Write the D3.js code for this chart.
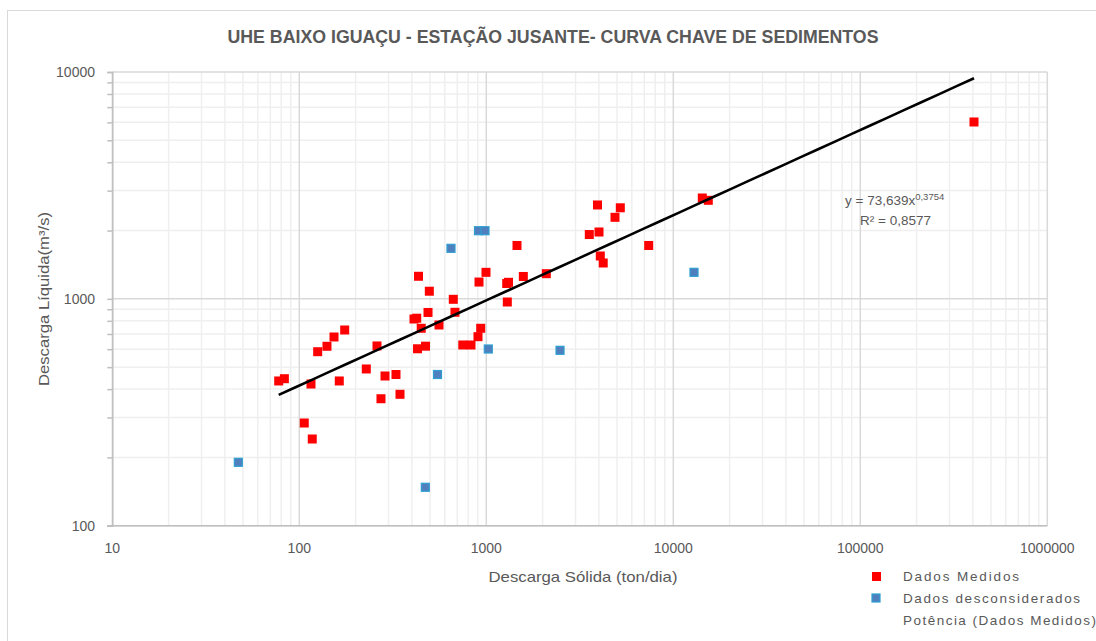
<!DOCTYPE html>
<html>
<head>
<meta charset="utf-8">
<script src="https://cdn.jsdelivr.net/npm/d3@7"></script>
<style>
  body { margin: 0; background: #fff; }
  text { font-family: "Liberation Sans", Arial, sans-serif; fill: #595959; }
</style>
</head>
<body>
<svg width="1096" height="641"></svg>
<script>
// Dados Medidos: descarga sólida (ton/dia) x descarga líquida (m³/s)
let medidosX = [77.6, 83.2, 125.4, 140.6, 153.3, 174.9, 115.5, 163.6, 228.2, 260.3,
                287.3, 328.9, 273.4, 345.6, 106.3, 117.3, 434, 495.8, 666, 680,
                410.6, 424.5, 487.9, 448.7, 558.6, 428.7, 473.1, 748.6, 828.2, 996.3,
                914.1, 1459.5, 1314.5, 1285.8, 1577.6, 2093.7, 1295.3, 933.5, 902.8, 3932.6,
                5207, 4878, 3555, 4006, 7386, 4071, 4219, 14290, 15385, 405500];
let medidosY = [434.5, 444.6, 584.8, 617.9, 679, 729, 421.3, 434.5, 490.8, 619.9,
                457, 464, 362.8, 379.5, 283.6, 241.1, 1257.6, 1080.6, 995.4, 872.6,
                815, 821.6, 870.9, 741.8, 766.9, 602.4, 618.5, 626.1, 626, 1309,
                1186, 1719, 1183, 1168.8, 1255, 1291, 968.5, 741.8, 681, 2593,
                2520, 2288, 1921, 1971, 1719, 1545, 1439, 2783, 2719, 6021];

// Dados desconsiderados
let descX = [47.2, 548.3, 647.4, 908.4, 984, 1025, 2479, 12902, 471.9];
let descY = [190.3, 464, 1670, 1997, 1997, 601, 593.2, 1309, 147.7];

// Potência (Dados Medidos): y = a * x^b
let trendA = 73.639, trendB = 0.3754;

let xTicks = [10, 100, 1000, 10000, 100000, 1000000];
let yTicks = [100, 1000, 10000];

var svg = d3.select('svg');

var x = d3.scaleLog().domain([10, 1000000]).range([112.3, 1047.3]);
var y = d3.scaleLog().domain([100, 10000]).range([525.7, 72]);

// moldura do gráfico
svg.append("rect")
   .attr("x", 7.5).attr("y", 10.5)
   .attr("width", 1100).attr("height", 650)
   .attr("fill", "none").attr("stroke", "#d9d9d9");

// valores de grade (1..9 por década)
function gridValues(lo, hi) {
  let out = [];
  for (let p = lo; p < hi; p *= 10) {
    for (let k = 1; k <= 9; k++) out.push(k * p);
  }
  out.push(hi);
  return out;
}
var xGrid = gridValues(10, 1000000);
var yGrid = gridValues(100, 10000);

var grid = svg.append("g");
grid.selectAll("line.gx")
    .data(xGrid.filter(v => !xTicks.includes(v)))
    .enter().append("line")
    .attr("x1", d => x(d)).attr("x2", d => x(d))
    .attr("y1", y(10000)).attr("y2", y(100))
    .attr("stroke", "#efefef").attr("stroke-width", 1.5);
grid.selectAll("line.gy")
    .data(yGrid.filter(v => !yTicks.includes(v)))
    .enter().append("line")
    .attr("x1", x(10)).attr("x2", x(1000000))
    .attr("y1", d => y(d)).attr("y2", d => y(d))
    .attr("stroke", "#efefef").attr("stroke-width", 1.5);
grid.selectAll("line.mx")
    .data(xTicks)
    .enter().append("line")
    .attr("x1", d => x(d)).attr("x2", d => x(d))
    .attr("y1", y(10000)).attr("y2", y(100))
    .attr("stroke", "#d9d9d9").attr("stroke-width", 1.5);
grid.selectAll("line.my")
    .data(yTicks)
    .enter().append("line")
    .attr("x1", x(10)).attr("x2", x(1000000))
    .attr("y1", d => y(d)).attr("y2", d => y(d))
    .attr("stroke", "#d9d9d9").attr("stroke-width", 1.5);

// eixos
var yAxis = d3.axisLeft(y).tickValues(yGrid).tickSize(5).tickFormat("");
svg.append("g")
   .attr("transform", `translate(${x(10)},0)`)
   .call(yAxis)
   .call(g => g.selectAll("line,path").attr("stroke", "#bfbfbf").attr("stroke-width", 1.5));

svg.append("line")
   .attr("x1", x(10) - 5).attr("x2", x(1000000))
   .attr("y1", y(100)).attr("y2", y(100))
   .attr("stroke", "#bfbfbf").attr("stroke-width", 1.5);

svg.selectAll("text.xt")
   .data(xTicks)
   .enter().append("text")
   .attr("x", d => x(d)).attr("y", 553)
   .attr("text-anchor", "middle")
   .style("font-size", "14px")
   .text(d => d);

svg.selectAll("text.yt")
   .data(yTicks)
   .enter().append("text")
   .attr("x", 95).attr("y", d => y(d) + 5)
   .attr("text-anchor", "end")
   .style("font-size", "14px")
   .text(d => d);

// título e rótulos
svg.append("text")
   .attr("x", 553).attr("y", 43)
   .attr("text-anchor", "middle")
   .attr("textLength", 651).attr("lengthAdjust", "spacingAndGlyphs")
   .style("font-size", "17.5px").style("font-weight", "bold")
   .text("UHE BAIXO IGUAÇU - ESTAÇÃO JUSANTE- CURVA CHAVE DE SEDIMENTOS");

svg.append("text")
   .attr("x", 583).attr("y", 582)
   .attr("text-anchor", "middle")
   .attr("textLength", 189).attr("lengthAdjust", "spacingAndGlyphs")
   .style("font-size", "14.5px")
   .text("Descarga Sólida (ton/dia)");

svg.append("text")
   .attr("transform", "translate(49,299) rotate(-90)")
   .attr("text-anchor", "middle")
   .attr("textLength", 174).attr("lengthAdjust", "spacingAndGlyphs")
   .style("font-size", "14.5px")
   .text("Descarga Líquida(m³/s)");

// linha de tendência (potência)
var trendX = d3.extent(medidosX);
var trendPts = d3.range(0, 41).map(i => {
  let lx = Math.log10(trendX[0]) + i / 40 * (Math.log10(trendX[1]) - Math.log10(trendX[0]));
  let xv = Math.pow(10, lx);
  return [xv, trendA * Math.pow(xv, trendB)];
});
var line = d3.line().x(d => x(d[0])).y(d => y(d[1]));

// pontos
var ms = 9;
svg.selectAll("rect.med")
   .data(d3.zip(medidosX, medidosY))
   .enter().append("rect")
   .attr("x", d => x(d[0]) - ms / 2)
   .attr("y", d => y(d[1]) - ms / 2)
   .attr("width", ms).attr("height", ms)
   .attr("fill", "#ff0000");

svg.selectAll("rect.desc")
   .data(d3.zip(descX, descY))
   .enter().append("rect")
   .attr("x", d => x(d[0]) - 4)
   .attr("y", d => y(d[1]) - 4)
   .attr("width", 8).attr("height", 8)
   .attr("fill", "#4f7fbd").attr("stroke", "#2e9fd2").attr("stroke-width", 1.2);

svg.append("path")
   .datum(trendPts)
   .attr("d", line)
   .attr("fill", "none")
   .attr("stroke", "#000").attr("stroke-width", 2.6);

// equação
var eq = svg.append("text")
   .attr("x", 845).attr("y", 205)
   .style("font-size", "13.5px");
eq.append("tspan").text("y = 73,639x");
eq.append("tspan").attr("dy", -5).style("font-size", "9.5px").text("0,3754");
svg.append("text")
   .attr("x", 860).attr("y", 225)
   .style("font-size", "13.5px")
   .text("R² = 0,8577");

// legenda
var legend = svg.append("g");
legend.append("rect").attr("x", 872).attr("y", 572).attr("width", 9).attr("height", 9).attr("fill", "#ff0000");
legend.append("rect").attr("x", 872).attr("y", 594).attr("width", 8).attr("height", 8)
      .attr("fill", "#4f7fbd").attr("stroke", "#2e9fd2").attr("stroke-width", 1.2);
var legTexts = [["Dados Medidos", 581, 116], ["Dados desconsiderados", 603, 177], ["Potência (Dados Medidos)", 625, 193]];
legend.selectAll("text")
      .data(legTexts)
      .enter().append("text")
      .attr("x", 903).attr("y", d => d[1])
      .attr("textLength", d => d[2]).attr("lengthAdjust", "spacing")
      .style("font-size", "13.5px")
      .text(d => d[0]);
</script>
</body>
</html>
